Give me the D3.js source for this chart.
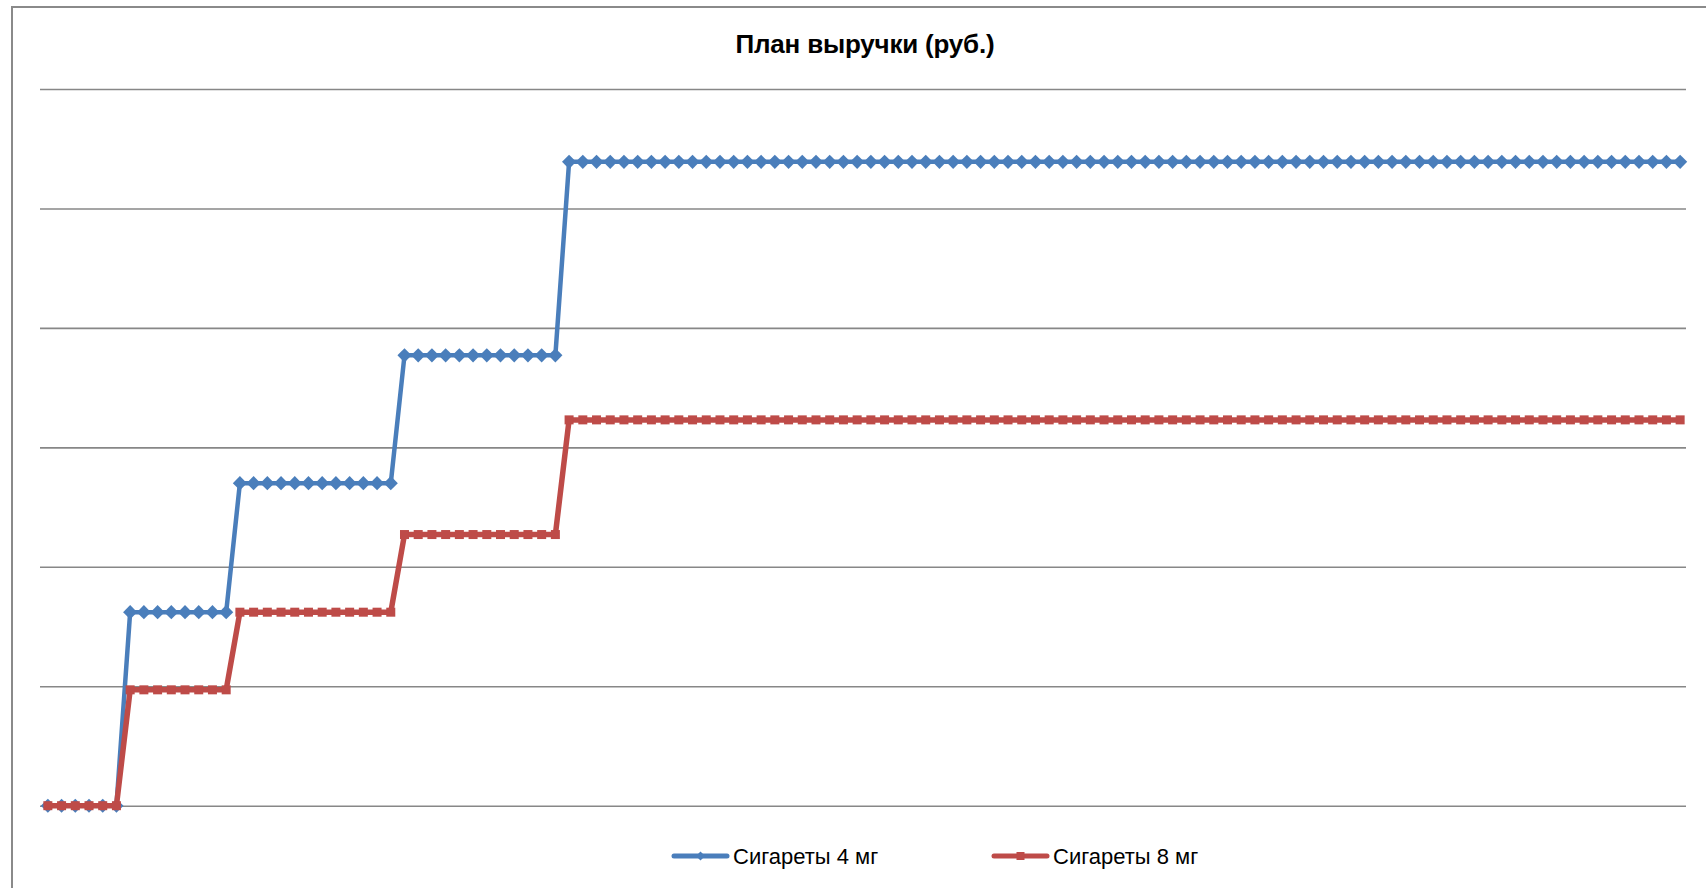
<!DOCTYPE html>
<html>
<head>
<meta charset="utf-8">
<script src="https://cdn.jsdelivr.net/npm/d3@7"></script>
<style>
  body { margin: 0; background: #fff; }
  svg { display: block; font-family: "Liberation Sans", Arial, sans-serif; }
</style>
</head>
<body>
<svg id="chart" width="1706" height="888"></svg>
<script>
// Заголовок и подписи
const chartTitle = "План выручки (руб.)";
const seriesNames = ["Сигареты 4 мг", "Сигареты 8 мг"];

// Месяцы (подписи оси не выводятся)
const months = d3.range(1, 121);

// Линии сетки
const gridTicks = [0, 100, 200, 300, 400, 500, 600];

// Сигареты 4 мг — по годам (12 месяцев в строке)
const cig4 = [
  0, 0, 0, 0, 0, 0, 162, 162, 162, 162, 162, 162,
  162, 162, 270, 270, 270, 270, 270, 270, 270, 270, 270, 270,
  270, 270, 377, 377, 377, 377, 377, 377, 377, 377, 377, 377,
  377, 377, 539, 539, 539, 539, 539, 539, 539, 539, 539, 539,
  539, 539, 539, 539, 539, 539, 539, 539, 539, 539, 539, 539,
  539, 539, 539, 539, 539, 539, 539, 539, 539, 539, 539, 539,
  539, 539, 539, 539, 539, 539, 539, 539, 539, 539, 539, 539,
  539, 539, 539, 539, 539, 539, 539, 539, 539, 539, 539, 539,
  539, 539, 539, 539, 539, 539, 539, 539, 539, 539, 539, 539,
  539, 539, 539, 539, 539, 539, 539, 539, 539, 539, 539, 539
];

// Сигареты 8 мг
const cig8 = [
  0, 0, 0, 0, 0, 0, 97, 97, 97, 97, 97, 97,
  97, 97, 162, 162, 162, 162, 162, 162, 162, 162, 162, 162,
  162, 162, 227, 227, 227, 227, 227, 227, 227, 227, 227, 227,
  227, 227, 323, 323, 323, 323, 323, 323, 323, 323, 323, 323,
  323, 323, 323, 323, 323, 323, 323, 323, 323, 323, 323, 323,
  323, 323, 323, 323, 323, 323, 323, 323, 323, 323, 323, 323,
  323, 323, 323, 323, 323, 323, 323, 323, 323, 323, 323, 323,
  323, 323, 323, 323, 323, 323, 323, 323, 323, 323, 323, 323,
  323, 323, 323, 323, 323, 323, 323, 323, 323, 323, 323, 323,
  323, 323, 323, 323, 323, 323, 323, 323, 323, 323, 323, 323
];

const svg = d3.select("#chart");

// Рамка области диаграммы (справа и снизу обрезана)
svg.append("path")
  .attr("d", "M12,888 L12,7 L1706,7")
  .attr("fill", "none")
  .attr("stroke", "#8a8a8a")
  .attr("stroke-width", 2);

// Шкалы
const x = d3.scaleBand().domain(months).range([41, 1687]);
const y = d3.scaleLinear().domain([0, 600]).range([805.7, 89]);
const cx = (d) => x(d) + x.bandwidth() / 2;

// Сетка
const grid = svg.append("g")
  .attr("transform", "translate(40,0)")
  .call(d3.axisLeft(y).tickValues(gridTicks).tickSize(-1646).tickFormat(""));
grid.select(".domain").remove();
grid.selectAll("line").attr("stroke", "#878787").attr("stroke-width", 1.6);

// Заголовок
svg.append("text")
  .attr("x", 865)
  .attr("y", 53)
  .attr("text-anchor", "middle")
  .style("font-size", "26px")
  .style("font-weight", "bold")
  .style("letter-spacing", "-0.2px")
  .text(chartTitle);

const line = d3.line()
  .x((d, i) => cx(months[i]))
  .y((d) => y(d));

const diamond = d3.symbol().type(d3.symbolSquare).size(100);

// Серия 1 — синяя с ромбами
svg.append("path")
  .datum(cig4)
  .attr("d", line)
  .attr("fill", "none")
  .attr("stroke", "#4a7ebb")
  .attr("stroke-width", 4.5)
  .attr("stroke-linejoin", "round");

svg.append("g")
  .selectAll("path")
  .data(cig4)
  .enter()
  .append("path")
  .attr("d", diamond)
  .attr("transform", (d, i) => `translate(${cx(months[i])},${y(d)}) rotate(45)`)
  .attr("fill", "#4a7ebb");

// Серия 2 — красная с квадратами
svg.append("path")
  .datum(cig8)
  .attr("d", line)
  .attr("fill", "none")
  .attr("stroke", "#be4b48")
  .attr("stroke-width", 5.5)
  .attr("stroke-linejoin", "round");

svg.append("g")
  .selectAll("rect")
  .data(cig8)
  .enter()
  .append("rect")
  .attr("x", (d, i) => cx(months[i]) - 4.5)
  .attr("y", (d) => y(d) - 4.5)
  .attr("width", 9)
  .attr("height", 9)
  .attr("fill", "#be4b48");

// Легенда
const legend = [
  { name: seriesNames[0], color: "#4a7ebb", x: 674, marker: "diamond" },
  { name: seriesNames[1], color: "#be4b48", x: 994, marker: "square" }
];
const ly = 856;

const lg = svg.append("g")
  .selectAll("g")
  .data(legend)
  .enter()
  .append("g")
  .attr("transform", (d) => `translate(${d.x},${ly})`);

lg.append("line")
  .attr("x1", 0)
  .attr("x2", 53)
  .attr("stroke", (d) => d.color)
  .attr("stroke-width", 5)
  .attr("stroke-linecap", "round");

lg.filter((d) => d.marker === "diamond")
  .append("path")
  .attr("d", d3.symbol().type(d3.symbolSquare).size(40))
  .attr("transform", "translate(26.5,0) rotate(45)")
  .attr("fill", (d) => d.color);

lg.filter((d) => d.marker === "square")
  .append("rect")
  .attr("x", 22.5)
  .attr("y", -4)
  .attr("width", 8)
  .attr("height", 8)
  .attr("fill", (d) => d.color);

lg.append("text")
  .attr("x", 59)
  .attr("y", 8)
  .style("font-size", "22px")
  .attr("fill", "#000")
  .text((d) => d.name);
</script>
</body>
</html>
